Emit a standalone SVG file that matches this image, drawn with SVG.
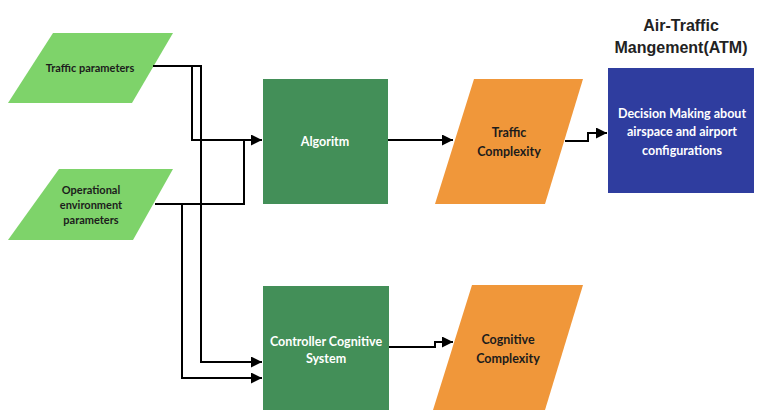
<svg xmlns="http://www.w3.org/2000/svg" width="762" height="410" viewBox="0 0 762 410">
<defs>
<marker id="arr" viewBox="0 0 10 10" refX="10" refY="5" markerWidth="5.5" markerHeight="5.5" markerUnits="strokeWidth" orient="auto">
<path d="M0,0 L10,5 L0,10 z" fill="#000"/>
</marker>
<style>
.in{fill:#7ed36a}
.proc{fill:#438f58}
.out{fill:#f0973a}
.atm{fill:#2f3d9f}
.t{font-family:Lato,"Open Sans","Noto Sans",sans-serif;font-weight:bold;text-anchor:middle}
.dk{fill:#1c1c1c;font-size:11px}
.dl{fill:#1c1c1c;font-size:12.5px}
.wh{fill:#fff;font-size:12.5px}
.ttl{font-family:"Liberation Sans",Arial,sans-serif;font-weight:bold;font-size:16px;fill:#222;text-anchor:middle}
.c{fill:none;stroke:#000;stroke-width:2}
</style>
</defs>
<rect width="762" height="410" fill="#fff"/>
<g id="traffic-parameters">
<polygon class="in" points="53,33 173,33 132,103 8,103"/>
<text class="t dk" x="90" y="72">Traffic parameters</text>
</g>
<g id="operational-environment">
<polygon class="in" points="59,169 173,169 133,240 8,240"/>
<text class="t dk" x="91" y="194">Operational</text>
<text class="t dk" x="91" y="209">environment</text>
<text class="t dk" x="91" y="224">parameters</text>
</g>
<g id="algorithm">
<rect class="proc" x="263" y="79" width="125" height="125"/>
<text class="t wh" x="325" y="146">Algoritm</text>
</g>
<g id="traffic-complexity">
<polygon class="out" points="474,79 583,79 545,204 435,204"/>
<text class="t dl" x="509" y="137">Traffic</text>
<text class="t dl" x="509" y="156">Complexity</text>
</g>
<g id="atm">
<text class="ttl" x="681" y="31">Air-Traffic</text>
<text class="ttl" x="681" y="53">Mangement(ATM)</text>
<rect class="atm" x="608" y="68" width="146" height="125"/>
<text class="t wh" x="682" y="118">Decision Making about</text>
<text class="t wh" x="682" y="136">airspace and airport</text>
<text class="t wh" x="682" y="155">configurations</text>
</g>
<g id="controller-cognitive-system">
<rect class="proc" x="263" y="286" width="126" height="130"/>
<text class="t wh" x="326" y="346">Controller Cognitive</text>
<text class="t wh" x="326" y="363">System</text>
</g>
<g id="cognitive-complexity">
<polygon class="out" points="472,285 583,285 545,410 433,410"/>
<text class="t dl" x="508" y="344">Cognitive</text>
<text class="t dl" x="508" y="363">Complexity</text>
</g>
<g id="connectors">
<path class="c" d="M153,66 H201 V362 H262" marker-end="url(#arr)"/>
<path class="c" d="M192,66 V140 H262" marker-end="url(#arr)"/>
<path class="c" d="M155,204 H244 V140"/>
<path class="c" d="M182,204 V378 H262" marker-end="url(#arr)"/>
<path class="c" d="M388,140 H453" marker-end="url(#arr)"/>
<path class="c" d="M565,141 H588 V133 H607" marker-end="url(#arr)"/>
<path class="c" d="M389,347 H435 V342 H453" marker-end="url(#arr)"/>
</g>
</svg>
